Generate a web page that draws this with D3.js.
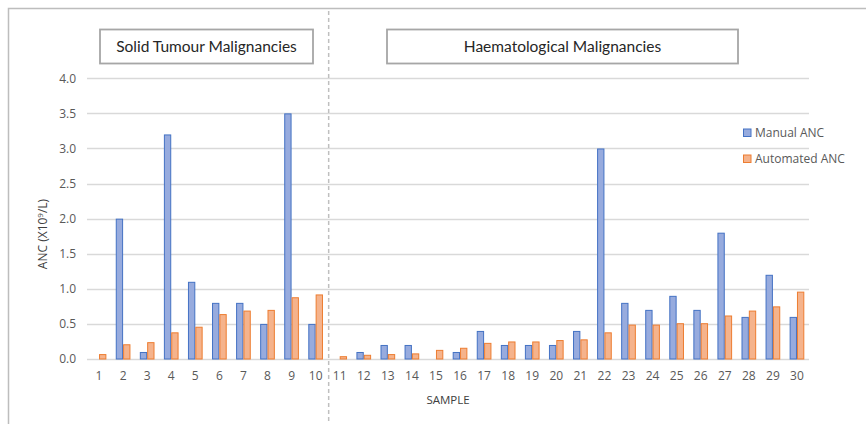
<!DOCTYPE html>
<html>
<head>
<meta charset="utf-8">
<script src="https://cdn.jsdelivr.net/npm/d3@7"></script>
<style>
  html, body { margin: 0; padding: 0; background: #fff; }
  svg { display: block; }
</style>
</head>
<body>
<svg id="chart" width="866" height="424"></svg>
<script>
// ---- data ----
const samples = d3.range(1, 31).map(String);
const manualANC = [0, 2.0, 0.1, 3.2, 1.1, 0.8, 0.8, 0.5, 3.5, 0.5,
                   0, 0.1, 0.2, 0.2, 0, 0.1, 0.4, 0.2, 0.2, 0.2,
                   0.4, 3.0, 0.8, 0.7, 0.9, 0.7, 1.8, 0.6, 1.2, 0.6];
const automatedANC = [0.07, 0.21, 0.24, 0.38, 0.46, 0.64, 0.69, 0.70, 0.88, 0.92,
                      0.04, 0.06, 0.07, 0.08, 0.13, 0.16, 0.23, 0.25, 0.25, 0.27,
                      0.28, 0.38, 0.49, 0.49, 0.51, 0.51, 0.62, 0.69, 0.75, 0.96];
const seriesNames = ["Manual ANC", "Automated ANC"];
const yTicks = [0, 0.5, 1.0, 1.5, 2.0, 2.5, 3.0, 3.5, 4.0];
const groupLabels = ["Solid Tumour Malignancies", "Haematological Malignancies"];

// ---- layout ----
const svg = d3.select("#chart");
const plot = { left: 87, right: 809, top: 78.3, bottom: 359 };
const fills = ["#97abde", "#f5b38c"];
const strokes = ["#4472c4", "#ed7d31"];
const tickFont = "'Open Sans', 'Segoe UI', sans-serif";

const x = d3.scaleBand().domain(samples).range([plot.left, plot.right])
  .paddingInner(0.39).paddingOuter(0.195);
const xs = d3.scaleBand().domain(seriesNames).range([0, x.bandwidth()]);
const y = d3.scaleLinear().domain([0, 4]).range([plot.bottom, plot.top]);

// outer frame
svg.append("path").attr("d", "M8.5,430 L8.5,8.5 L870,8.5")
  .attr("fill", "none").attr("stroke", "#bdbdbd").attr("stroke-width", 1.5);

// gridlines
svg.append("g").selectAll("line").data(yTicks).join("line")
  .attr("x1", plot.left).attr("x2", plot.right)
  .attr("y1", d => Math.round(y(d)) + 0.5).attr("y2", d => Math.round(y(d)) + 0.5)
  .attr("stroke", "#d9d9d9").attr("stroke-width", 1.3);

// y axis labels
const yAxis = d3.axisLeft(y).tickValues(yTicks).tickFormat(d3.format(".1f")).tickSize(0).tickPadding(0);
const yg = svg.append("g").attr("transform", `translate(${plot.left - 11},0)`).call(yAxis);
yg.select(".domain").remove();
yg.selectAll("text").attr("font-family", tickFont).attr("font-size", 12).attr("fill", "#595959");

// x axis labels
const xAxis = d3.axisBottom(x).tickSize(0).tickPadding(0);
const xg = svg.append("g").attr("transform", `translate(0,${plot.bottom + 12})`).call(xAxis);
xg.select(".domain").remove();
xg.selectAll("text").attr("font-family", tickFont).attr("font-size", 12).attr("fill", "#595959");

// bars
const rows = samples.map((s, i) => ({ s, vals: [manualANC[i], automatedANC[i]] }));
const groups = svg.append("g").selectAll("g").data(rows).join("g")
  .attr("transform", d => `translate(${x(d.s)},0)`);
groups.selectAll("rect").data(d => d.vals.map((v, j) => ({ v, j })))
  .join("rect")
  .filter(d => d.v > 0)
  .attr("x", d => xs(seriesNames[d.j]) + 0.5)
  .attr("width", xs.bandwidth() - 1)
  .attr("y", d => y(d.v) + 0.5)
  .attr("height", d => Math.max(0, y(0) - y(d.v) - 0.5))
  .attr("fill", d => fills[d.j])
  .attr("stroke", d => strokes[d.j])
  .attr("stroke-width", 1);

// dashed divider between sample 10 and 11
const divX = (x("10") + x.bandwidth() + x("11")) / 2 + 1;
svg.append("line").attr("x1", divX).attr("x2", divX).attr("y1", 11).attr("y2", 424)
  .attr("stroke", "#bfbfbf").attr("stroke-width", 1.5).attr("stroke-dasharray", "4,3");

// group label boxes
const boxes = [
  { label: groupLabels[0], x0: 100, x1: 313 },
  { label: groupLabels[1], x0: 387, x1: 738 }
];
const bg = svg.append("g").selectAll("g").data(boxes).join("g");
bg.append("rect").attr("x", d => d.x0).attr("y", 29.5).attr("width", d => d.x1 - d.x0).attr("height", 34)
  .attr("fill", "#fff").attr("stroke", "#a6a6a6").attr("stroke-width", 1.8);
bg.append("text").attr("x", d => (d.x0 + d.x1) / 2).attr("y", 51.5)
  .attr("text-anchor", "middle").attr("font-family", "Lato, 'Open Sans', sans-serif")
  .attr("font-size", 15.5).attr("fill", "#262626").text(d => d.label);

// axis titles
svg.append("text").attr("x", (plot.left + plot.right) / 2).attr("y", 404)
  .attr("text-anchor", "middle").attr("font-family", tickFont).attr("font-size", 11.5)
  .attr("fill", "#404040").text("SAMPLE");
const yt = svg.append("text").attr("transform", "translate(47,234) rotate(-90)")
  .attr("text-anchor", "middle").attr("font-family", tickFont).attr("font-size", 12)
  .attr("fill", "#404040");
yt.append("tspan").text("ANC (X10");
yt.append("tspan").attr("dy", -4).attr("font-size", 8).text("9");
yt.append("tspan").attr("dy", 4).text("/L)");

// legend
const lg = svg.append("g").selectAll("g").data(seriesNames).join("g")
  .attr("transform", (d, i) => `translate(743.5,${129 + i * 26})`);
lg.append("rect").attr("x", 0).attr("y", 0).attr("width", 7.5).attr("height", 7.5)
  .attr("fill", (d, i) => fills[i]).attr("stroke", (d, i) => strokes[i]).attr("stroke-width", 1);
lg.append("text").attr("x", 11.5).attr("y", 8).attr("font-family", tickFont).attr("font-size", 12)
  .attr("fill", "#595959").text(d => d);
</script>
</body>
</html>
